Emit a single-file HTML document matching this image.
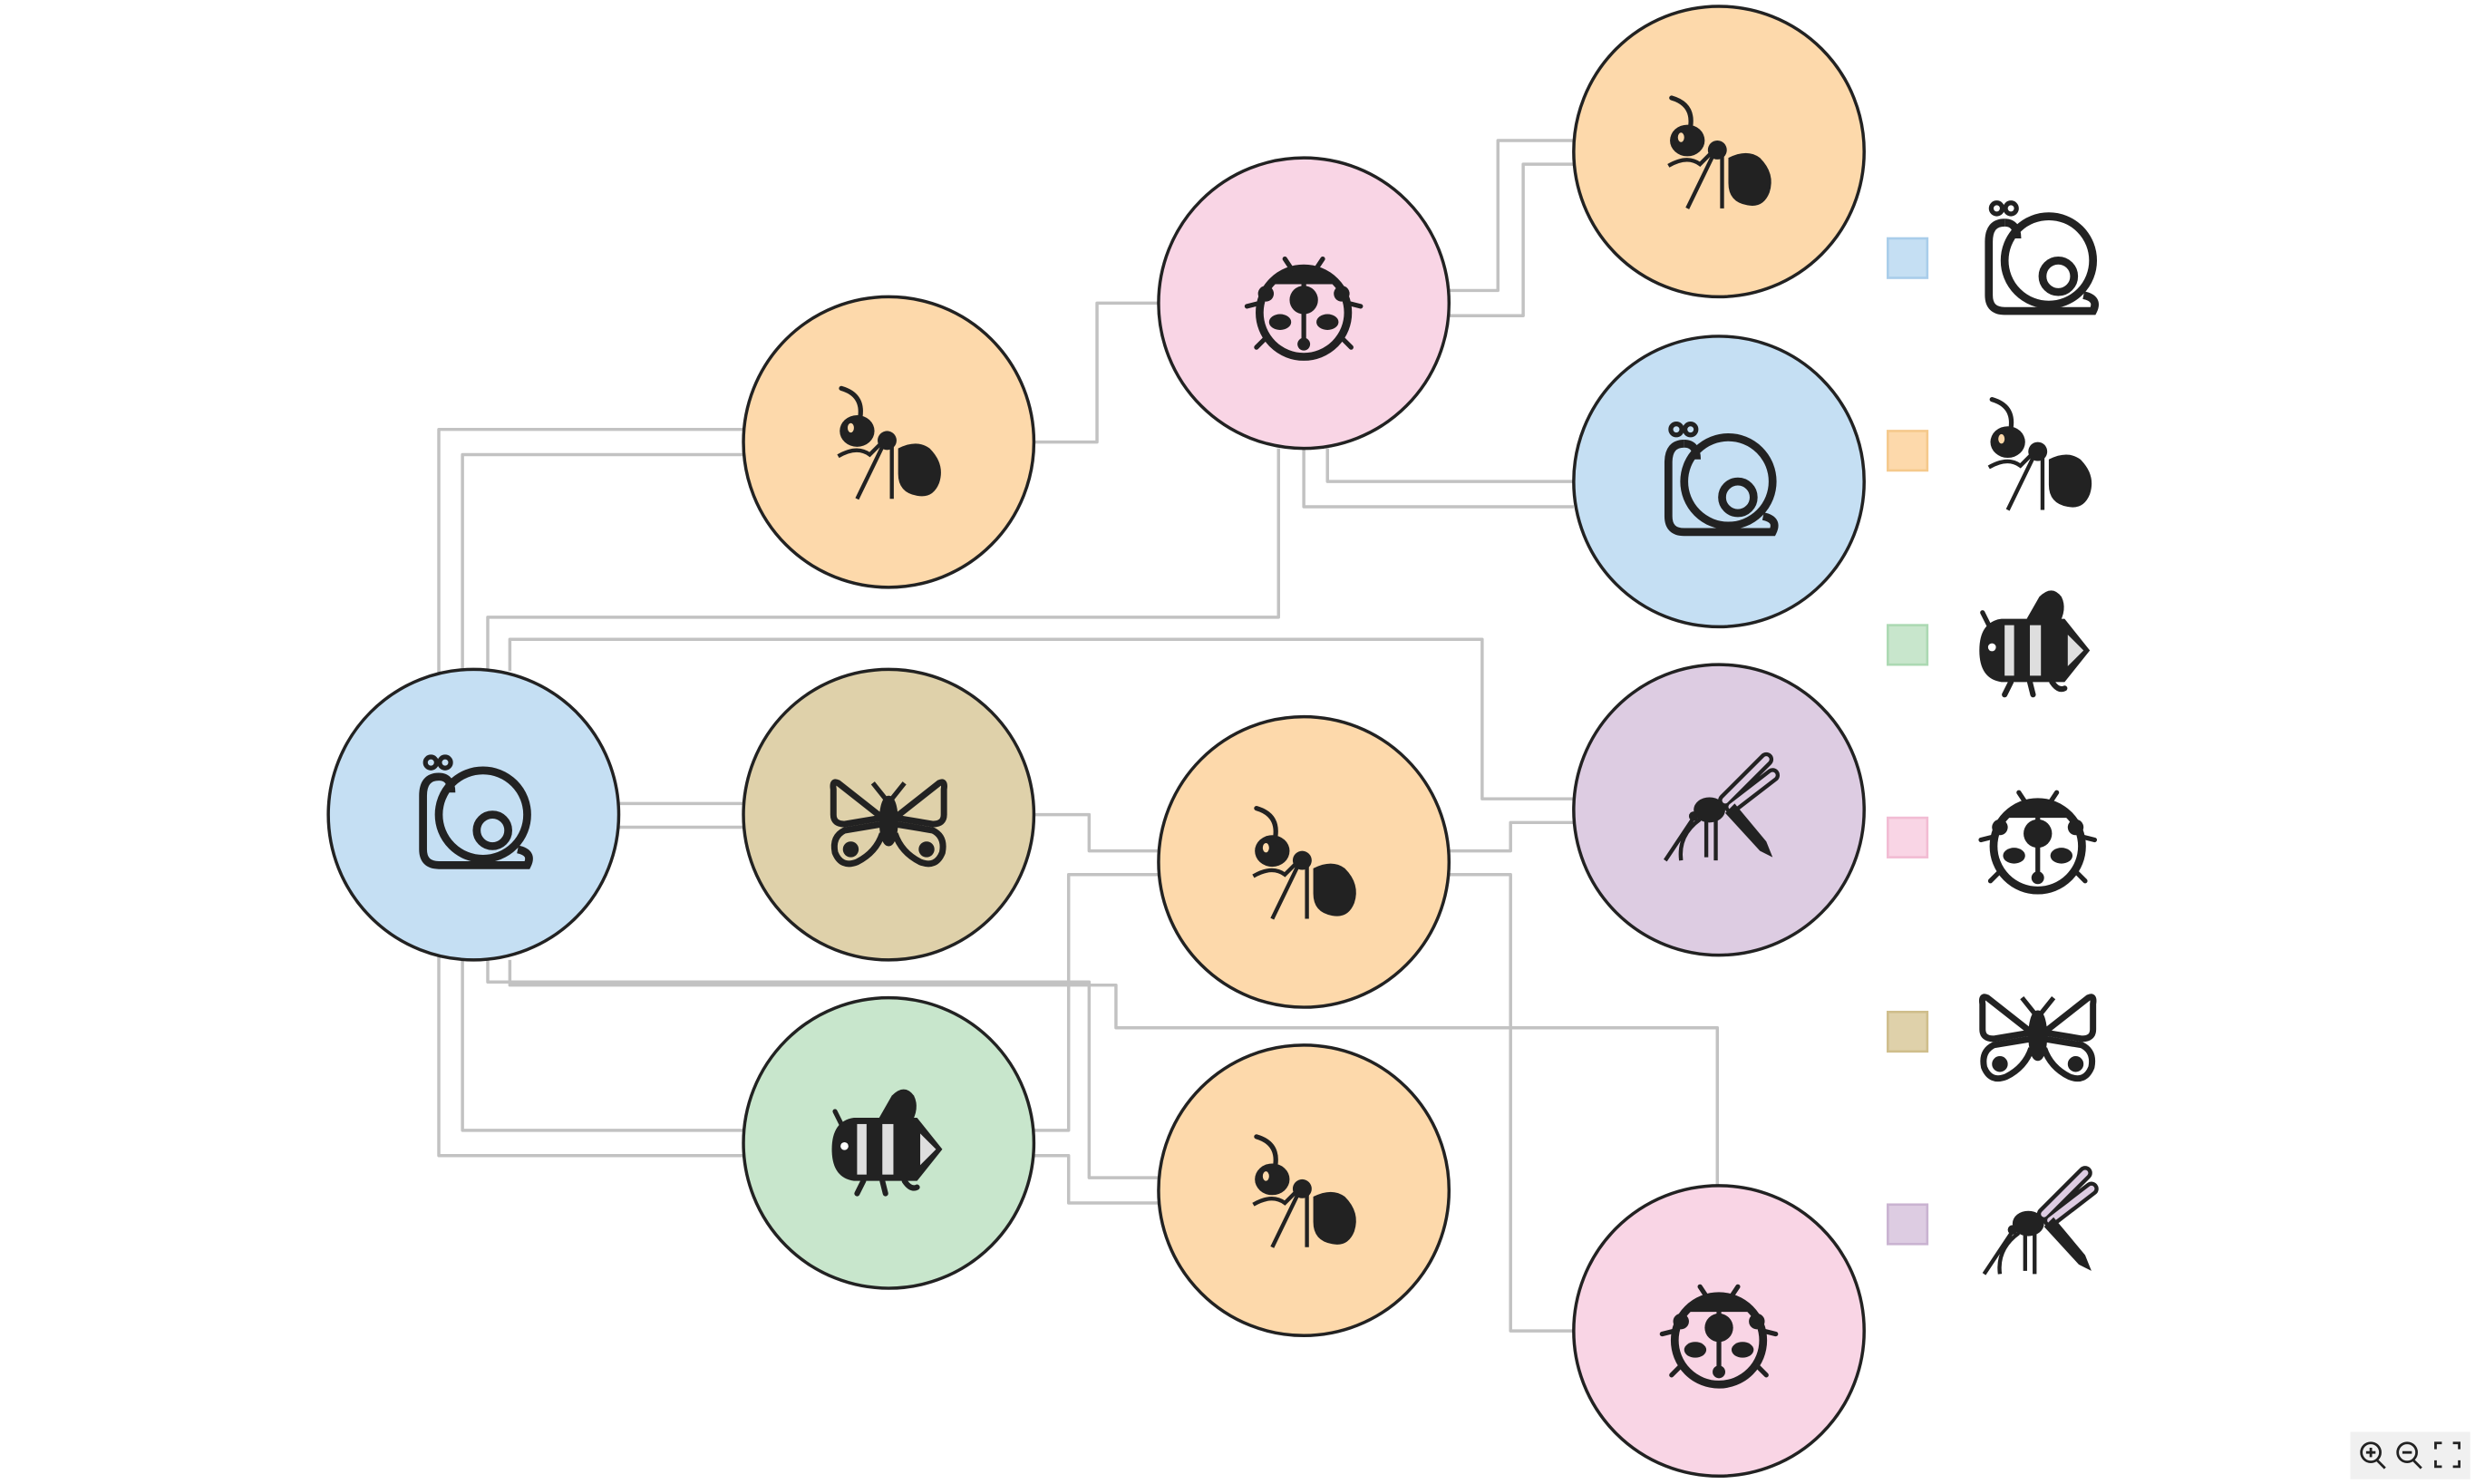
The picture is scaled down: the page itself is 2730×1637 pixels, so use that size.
<!DOCTYPE html>
<html><head><meta charset="utf-8"><style>
html,body{margin:0;padding:0;background:#fff;}
svg{display:block;}
</style></head><body>
<svg width="2730" height="1637" viewBox="0 0 1568 940" preserveAspectRatio="none" xmlns="http://www.w3.org/2000/svg">
<defs>
<g id="ant">
  <path d="M-18,-16 Q-16,-30 -30,-34" fill="none" stroke="#222" stroke-width="3" stroke-linecap="round"/>
  <ellipse cx="-20" cy="-7" rx="11" ry="10" fill="#222"/>
  <ellipse cx="-24" cy="-9" rx="2" ry="3" fill="#fdd9ab"/>
  <circle cx="-1" cy="-1" r="6" fill="#222"/>
  <path d="M6,4 Q18,-2 26,4 Q36,14 32,26 Q28,36 18,34 Q6,32 6,20 Z" fill="#222"/>
  <path d="M-4,3 L-20,36 M2,3 V36 M-4,0 L-12,8 Q-20,2 -32,9" fill="none" stroke="#222" stroke-width="2.5"/>
</g>
<g id="snail" fill="none" stroke="#222" stroke-width="5">
  <circle cx="6" cy="0" r="28"/>
  <circle cx="12" cy="10" r="10"/>
  <path d="M-22,-24 Q-32,-24 -32,-12 V22 Q-32,32 -22,32 H34 Q38,24 28,22"/>
  <path d="M-22,-24 Q-14,-24 -14,-14"/>
  <circle cx="-27" cy="-33" r="3.5" stroke-width="3"/>
  <circle cx="-18" cy="-33" r="3.5" stroke-width="3"/>
</g>
<g id="bee">
  <path d="M-6,-16 L2,-30 Q10,-38 16,-30 Q20,-22 14,-12 Z" fill="#222"/>
  <path d="M-30,-12 L-34,-20" stroke="#222" stroke-width="3" stroke-linecap="round"/>
  <path d="M-36,4 Q-36,-14 -22,-16 L18,-16 L34,4 L18,24 L-22,24 Q-36,22 -36,4 Z" fill="#222"/>
  <rect x="-20" y="-12" width="6" height="32" fill="#fff" opacity="0.85"/>
  <rect x="-4" y="-12" width="7" height="32" fill="#fff" opacity="0.85"/>
  <path d="M20,-6 L30,4 L20,14 Z" fill="#fff" opacity="0.85"/>
  <circle cx="-28" cy="2" r="2.5" fill="#fff"/>
  <path d="M-16,24 L-20,32 M-4,24 L-2,32 M10,24 Q14,30 18,28" stroke="#222" stroke-width="3.5" stroke-linecap="round" fill="none"/>
</g>
<g id="ladybug">
  <circle cx="0" cy="6" r="28" fill="none" stroke="#222" stroke-width="5"/>
  <path d="M-22,-12 Q0,-34 22,-12 Z" fill="#222"/>
  <circle cx="0" cy="-2" r="9" fill="#222"/>
  <rect x="-1.5" y="-20" width="3" height="44" fill="#222"/>
  <ellipse cx="-15" cy="12" rx="7" ry="5" fill="#222"/>
  <ellipse cx="15" cy="12" rx="7" ry="5" fill="#222"/>
  <circle cx="0" cy="26" r="4" fill="#222"/>
  <circle cx="-24" cy="-6" r="5" fill="#222"/><circle cx="24" cy="-6" r="5" fill="#222"/>
  <path d="M-8,-22 L-12,-28 M8,-22 L12,-28 M-28,0 L-36,2 M28,0 L36,2 M-24,22 L-30,28 M24,22 L30,28" stroke="#222" stroke-width="3" stroke-linecap="round"/>
</g>
<g id="butterfly" fill="none" stroke="#222" stroke-width="4" stroke-linejoin="round">
  <path d="M-4,2 L-32,-20 Q-36,-22 -35,-16 L-35,0 Q-35,6 -28,6 Z"/>
  <path d="M4,2 L32,-20 Q36,-22 35,-16 L35,0 Q35,6 28,6 Z"/>
  <path d="M-4,6 L-28,10 Q-36,14 -34,24 Q-30,34 -20,30 Q-8,24 -4,12"/>
  <path d="M4,6 L28,10 Q36,14 34,24 Q30,34 20,30 Q8,24 4,12"/>
  <ellipse cx="0" cy="4" rx="4" ry="14" fill="#222"/>
  <path d="M-2,-10 L-10,-20 M2,-10 L10,-20" stroke-width="3"/>
  <circle cx="-24" cy="22" r="3" fill="#222"/><circle cx="24" cy="22" r="3" fill="#222"/>
</g>
<g id="mosquito">
  <path d="M4,-6 L30,-32 M8,-2 L34,-22" stroke="#222" stroke-width="9" stroke-linecap="round"/>
  <path d="M4,-6 L30,-32 M8,-2 L34,-22" stroke="#ddcce2" stroke-width="4" stroke-linecap="round"/>
  <ellipse cx="-6" cy="0" rx="10" ry="8" fill="#222"/>
  <path d="M4,2 L26,26 L34,30 L30,20 L10,-4 Z" fill="#222"/>
  <path d="M-14,2 L-34,32 M-8,6 L-8,30 M-2,6 L-2,32 M-12,6 Q-26,16 -24,32" stroke="#222" stroke-width="2.5" fill="none"/>
  <circle cx="-16" cy="4" r="3" fill="#222"/>
</g>
</defs>

<g fill="none" stroke="#c2c2c2" stroke-width="2" stroke-linejoin="round">
  <polyline points="471,272 278,272 278,732 471,732"/>
  <polyline points="471,288 293,288 293,716 471,716"/>
  <polyline points="810,284 810,391 309,391 309,425"/>
  <polyline points="323,425 323,405 939,405 939,506 997,506"/>
  <polyline points="392,509 471,509"/>
  <polyline points="392,524 471,524"/>
  <polyline points="309,608 309,622 690,622 690,746 735,746"/>
  <polyline points="323,608 323,624 707,624 707,651 1088,651 1088,752"/>
  <polyline points="655,516 690,516 690,539 735,539"/>
  <polyline points="655,716 677,716 677,554 735,554"/>
  <polyline points="655,732 677,732 677,762 735,762"/>
  <polyline points="918,539 957,539 957,521 997,521"/>
  <polyline points="918,554 957,554 957,843 997,843"/>
  <polyline points="918,184 949,184 949,89 997,89"/>
  <polyline points="918,200 965,200 965,104 997,104"/>
  <polyline points="841,284 841,305 997,305"/>
  <polyline points="826,284 826,321 997,321"/>
  <polyline points="655,280 695,280 695,192 735,192"/>
</g>

<g stroke="#222" stroke-width="2">
  <circle cx="300" cy="516" r="92" fill="#c5dff3"/>
  <circle cx="563" cy="280" r="92" fill="#fdd9ab"/>
  <circle cx="563" cy="516" r="92" fill="#dfd1aa"/>
  <circle cx="563" cy="724" r="92" fill="#c8e6cc"/>
  <circle cx="826" cy="192" r="92" fill="#f9d5e5"/>
  <circle cx="826" cy="546" r="92" fill="#fdd9ab"/>
  <circle cx="826" cy="754" r="92" fill="#fdd9ab"/>
  <circle cx="1089" cy="96" r="92" fill="#fdd9ab"/>
  <circle cx="1089" cy="305" r="92" fill="#c5dff3"/>
  <circle cx="1089" cy="513" r="92" fill="#ddcce2"/>
  <circle cx="1089" cy="843" r="92" fill="#f9d5e5"/>
</g>

<use href="#snail" x="300" y="516"/>
<use href="#ant" x="563" y="280"/>
<use href="#butterfly" x="563" y="516"/>
<use href="#bee" x="563" y="724"/>
<use href="#ladybug" x="826" y="192"/>
<use href="#ant" x="826" y="546"/>
<use href="#ant" x="826" y="754"/>
<use href="#ant" x="1089" y="96"/>
<use href="#snail" x="1089" y="305"/>
<use href="#mosquito" x="1089" y="513"/>
<use href="#ladybug" x="1089" y="843"/>

<g stroke-width="1.5">
  <rect x="1196" y="151" width="25" height="25" fill="#c5dff3" stroke="#a9cdea"/>
  <rect x="1196" y="273" width="25" height="25" fill="#fdd9ab" stroke="#f5c98c"/>
  <rect x="1196" y="396" width="25" height="25" fill="#c8e6cc" stroke="#acd9b3"/>
  <rect x="1196" y="518" width="25" height="25" fill="#f9d5e5" stroke="#f2bcd3"/>
  <rect x="1196" y="641" width="25" height="25" fill="#dfd1aa" stroke="#cfbe8c"/>
  <rect x="1196" y="763" width="25" height="25" fill="#ddcce2" stroke="#c9b3d1"/>
</g>
<use href="#snail" x="1292" y="165"/>
<use href="#ant" x="1292" y="287"/>
<use href="#bee" x="1290" y="408"/>
<use href="#ladybug" x="1291" y="530"/>
<use href="#butterfly" x="1291" y="652"/>
<use href="#mosquito" x="1291" y="775"/>

<rect x="1489" y="907" width="76" height="30" fill="#f0f0f0"/>
<g fill="none" stroke="#222" stroke-width="1.6">
  <circle cx="1502" cy="920" r="6"/><path d="M1506,925 L1511,930 M1499,920 H1505 M1502,917 V923"/>
  <circle cx="1525" cy="920" r="6"/><path d="M1529,925 L1534,930 M1522,920 H1528"/>
  <path d="M1543,918 V914 H1547 M1554,914 H1558 V918 M1558,925 V929 H1554 M1547,929 H1543 V925"/>
</g>
</svg>
</body></html>
